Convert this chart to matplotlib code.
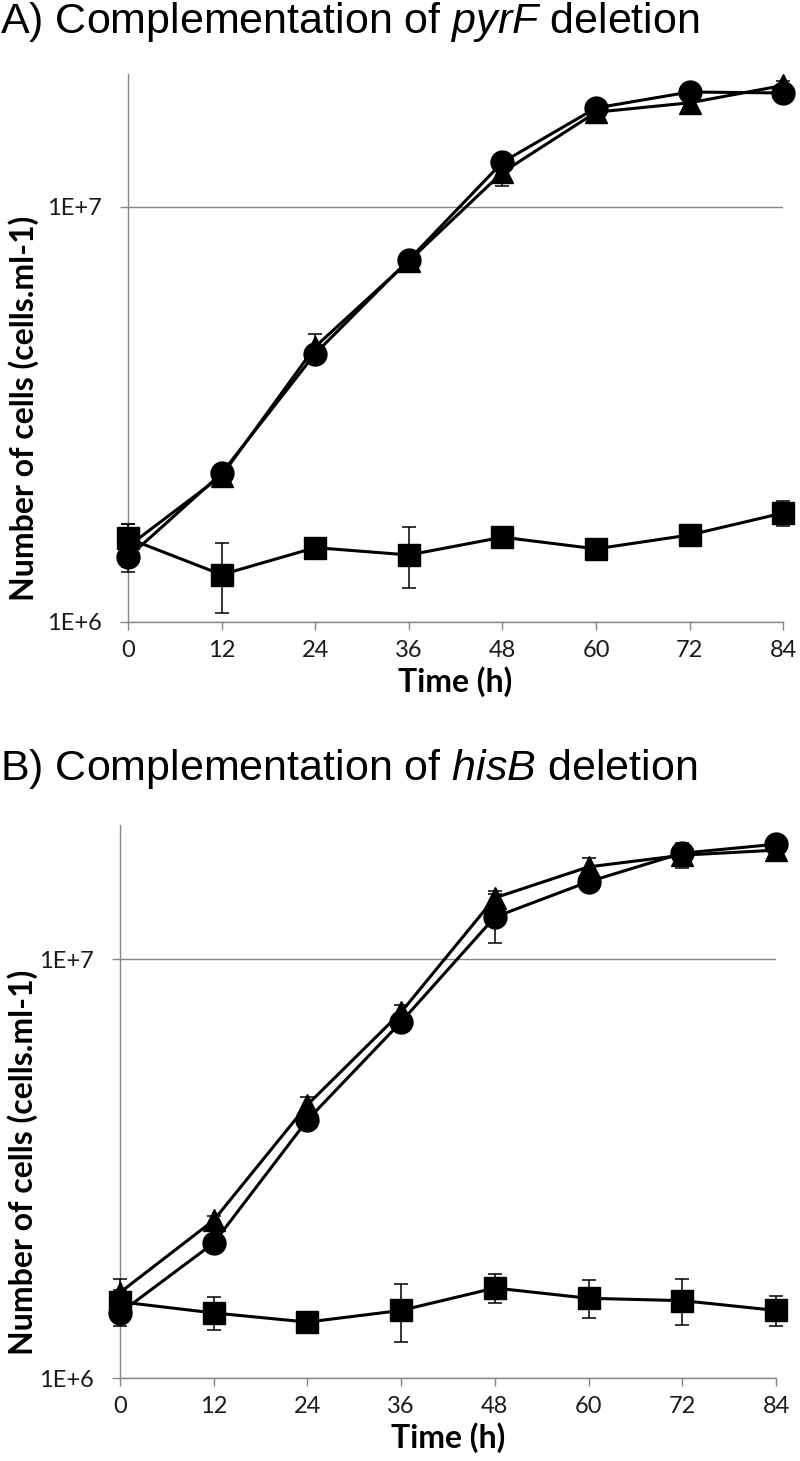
import numpy as np
import matplotlib
matplotlib.use("Agg")
import matplotlib.pyplot as plt
from matplotlib.ticker import FixedLocator, FuncFormatter, NullLocator

plt.rcParams["mathtext.fontset"] = "custom"
plt.rcParams["mathtext.rm"] = "Liberation Sans"
plt.rcParams["mathtext.it"] = "Liberation Sans:italic"

hours = [0, 12, 24, 36, 48, 60, 72, 84]

# A) pyrF deletion
pyrF_circle = [1.43e6, 2.28e6, 4.43e6, 7.45e6, 1.28e7, 1.73e7, 1.89e7, 1.88e7]
pyrF_circle_err = [0.07e6, 0.06e6, 0.12e6, 0.2e6, 0.04e7, 0.04e7, 0.05e7, 0.04e7]
pyrF_triangle = [1.52e6, 2.25e6, 4.60e6, 7.40e6, 1.21e7, 1.69e7, 1.78e7, 1.96e7]
pyrF_triangle_err = [0.2e6, 0.06e6, 0.35e6, 0.3e6, 0.09e7, 0.04e7, 0.04e7, 0.05e7]
pyrF_square = [1.59e6, 1.30e6, 1.51e6, 1.45e6, 1.60e6, 1.50e6, 1.62e6, 1.83e6]
pyrF_square_err = [0.13e6, 0.25e6, 0.05e6, 0.24e6, 0.05e6, 0.04e6, 0.05e6, 0.13e6]

# B) hisB deletion
hisB_circle = [1.43e6, 2.10e6, 4.13e6, 7.08e6, 1.26e7, 1.53e7, 1.79e7, 1.88e7]
hisB_circle_err = [0.1e6, 0.05e6, 0.1e6, 0.2e6, 0.17e7, 0.05e7, 0.05e7, 0.03e7]
hisB_triangle = [1.60e6, 2.38e6, 4.49e6, 7.47e6, 1.40e7, 1.66e7, 1.77e7, 1.82e7]
hisB_triangle_err = [0.12e6, 0.05e6, 0.2e6, 0.3e6, 0.05e7, 0.08e7, 0.12e7, 0.05e7]
hisB_square = [1.52e6, 1.43e6, 1.36e6, 1.45e6, 1.64e6, 1.55e6, 1.53e6, 1.45e6]
hisB_square_err = [0.1e6, 0.13e6, 0.05e6, 0.23e6, 0.13e6, 0.16e6, 0.19e6, 0.12e6]

y_ticks = [1e6, 1e7]
axis_gray = "#868686"
label_font = "Lato"

fig = plt.figure(figsize=(8, 14.61), dpi=100)

panels = [
    ([0.160, 0.5743, 0.819, 0.3751], r"A) Complementation of $\mathit{pyrF}$ deletion", 0.9774, -0.136,
     pyrF_triangle, pyrF_triangle_err, pyrF_circle, pyrF_circle_err, pyrF_square, pyrF_square_err),
    ([0.150, 0.0568, 0.820, 0.3785], r"B) Complementation of $\mathit{hisB}$ deletion", 0.4661, -0.125,
     hisB_triangle, hisB_triangle_err, hisB_circle, hisB_circle_err, hisB_square, hisB_square_err),
]

for rect, title, title_y, ylab_x, tri, tri_err, cir, cir_err, sq, sq_err in panels:
    ax = fig.add_axes(rect)
    common = dict(color="black", lw=2.2, ecolor="black", elinewidth=1.1,
                  capsize=5, capthick=1.1, clip_on=False, zorder=3)
    for (vals, errs, mk, ms) in [(tri, tri_err, "^", 16),
                                 (cir, cir_err, "o", 16.5),
                                 (sq, sq_err, "s", 16.5)]:
        eb = ax.errorbar(hours, vals, yerr=errs, marker=mk, markersize=ms,
                         markerfacecolor="black", markeredgecolor="black", **common)
        for artist in eb.lines[1] + eb.lines[2]:
            artist.set_clip_on(False)

    ax.set_yscale("log")
    ax.set_ylim(1e6, 10 ** 7.32)
    ax.set_xlim(0, 84)
    ax.set_xticks(hours)
    ax.yaxis.set_major_locator(FixedLocator(y_ticks))
    ax.yaxis.set_minor_locator(NullLocator())
    ax.yaxis.set_major_formatter(FuncFormatter(lambda v, p: "1E+%d" % round(np.log10(v))))
    ax.grid(axis="y", color=axis_gray, lw=1)
    ax.set_axisbelow(True)
    for side in ["top", "right"]:
        ax.spines[side].set_visible(False)
    for side in ["left", "bottom"]:
        ax.spines[side].set_color(axis_gray)
        ax.spines[side].set_linewidth(1)
    ax.tick_params(axis="both", direction="out", length=6, width=1, color=axis_gray,
                   labelsize=17, labelcolor="#1a1a1a")
    ax.tick_params(axis="y", pad=13)
    ax.tick_params(axis="x", pad=7)
    for lab in ax.get_xticklabels() + ax.get_yticklabels():
        lab.set_fontfamily(label_font)

    ax.set_xlabel("Time (h)", fontfamily=label_font, fontweight="bold", fontsize=23, labelpad=4)
    ax.set_ylabel("Number of cells (cells.ml-1)", fontfamily=label_font,
                  fontweight="bold", fontsize=23)
    ax.yaxis.set_label_coords(ylab_x, 0.39)

    fig.text(0.0, title_y, title, fontfamily="Liberation Sans", fontsize=31,
             va="baseline", ha="left")

fig.savefig("out.png", dpi=100)
